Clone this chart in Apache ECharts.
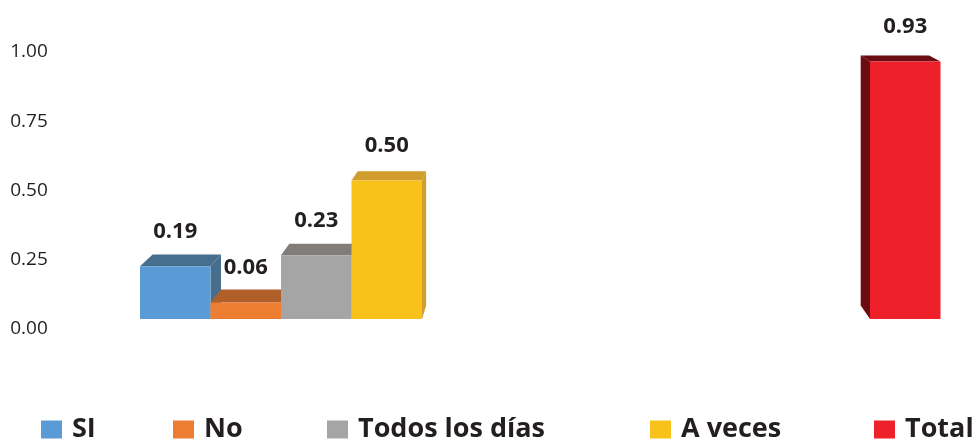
<!DOCTYPE html>
<html>
<head>
<meta charset="utf-8">
<title>Frecuencia</title>
<script src="https://cdn.jsdelivr.net/npm/echarts@6/dist/echarts.min.js"></script>
<style>
  html, body { margin: 0; padding: 0; background: #ffffff; }
  #chart { width: 972px; height: 441px; }
</style>
</head>
<body>
<div id="chart"></div>
<script>
// Two groups on the x axis: the four answers, then the total on its own
const groups = ['Respuestas', 'Total'];
const seriesNames = ['SI', 'No', 'Todos los días', 'A veces', 'Total'];
const seriesValues = [0.19, 0.06, 0.23, 0.50, 0.93];
const seriesGroup = [0, 0, 0, 0, 1];
const yTicks = ['0.00', '0.25', '0.50', '0.75', '1.00'];

// Styling: front colour and shaded (top/side) colour for each series
const frontColors = ['#5b9bd5', '#ed7d31', '#a5a5a5', '#f9c21b', '#ee2029'];
const shadeColors = ['#476f8d', '#b05f28', '#7f7c7a', '#d09c2c', '#6a0c12'];

// Layout of the pseudo-3D bars
const BAR_RATIO = 70.5 / 448;    // bar width as a share of the distance between groups
const VANISH = [560, -131];      // vanishing point of the depth faces (px)
const SHRINK = 0.97;             // back faces scaled toward the vanishing point
const LABEL_RISE = 35;           // value label above the front top edge
const legendSlots = [36, 168, 322, 645, 869];

const chart = echarts.init(document.getElementById('chart'), null, { renderer: 'canvas' });

function toBack(p) {
  return [VANISH[0] + SHRINK * (p[0] - VANISH[0]), VANISH[1] + SHRINK * (p[1] - VANISH[1])];
}

function renderBar(params, api) {
  const idx = params.seriesIndex;
  const g = api.value(0);
  const v = api.value(1);
  const topPt = api.coord([g, v]);
  const base = api.coord([g, 0])[1];
  const step = api.size([1, 0])[0];
  const w = step * BAR_RATIO;
  const x0 = topPt[0] + (idx - seriesNames.length / 2) * w;
  const x1 = x0 + w;
  const yt = topPt[1];

  const fl = [x0, yt], fr = [x1, yt];
  const topFace = [fl, fr, toBack(fr), toBack(fl)];
  const sideX = toBack(fl)[0] > x0 ? x1 : x0;
  const sideFace = [[sideX, yt], [sideX, base], toBack([sideX, base]), toBack([sideX, yt])];

  return {
    type: 'group',
    children: [
      { type: 'polygon', shape: { points: sideFace }, style: { fill: shadeColors[idx] } },
      { type: 'polygon', shape: { points: topFace }, style: { fill: shadeColors[idx] } },
      { type: 'rect', shape: { x: x0, y: yt, width: w, height: base - yt }, style: { fill: frontColors[idx] } },
      {
        type: 'text',
        style: {
          text: v.toFixed(2),
          x: (x0 + x1) / 2,
          y: yt - LABEL_RISE,
          align: 'center',
          verticalAlign: 'middle',
          fontFamily: '"Open Sans", sans-serif',
          fontWeight: 'bold',
          fontSize: 22,
          fill: '#231f20'
        }
      }
    ]
  };
}

const series = seriesNames.map((name, i) => ({
  name: name,
  type: 'custom',
  renderItem: renderBar,
  itemStyle: { color: frontColors[i] },
  encode: { x: 0, y: 1 },
  data: [[seriesGroup[i], seriesValues[i]]],
  animation: false
}));

const legends = seriesNames.map((name, i) => ({
  data: [{ name: name, icon: 'rect' }],
  left: legendSlots[i],
  top: 411,
  itemWidth: 21,
  itemHeight: 18,
  selectedMode: false,
  textStyle: {
    fontFamily: '"Open Sans", sans-serif',
    fontWeight: 'bold',
    fontSize: 27,
    color: '#231f20',
    padding: [0, 0, 0, 5]
  }
}));

chart.setOption({
  backgroundColor: '#ffffff',
  animation: false,
  // group centres sit on the grid edges, so the grid spans centre to centre
  grid: { left: 316.25, width: 448, top: 42, bottom: 122 },
  legend: legends,
  xAxis: {
    type: 'category',
    data: groups,
    boundaryGap: false,
    show: false
  },
  yAxis: {
    type: 'value',
    min: 0,
    max: 1,
    interval: 0.25,
    axisLine: { show: false },
    axisTick: { show: false },
    splitLine: { show: false },
    axisLabel: {
      align: 'left',
      verticalAlign: 'top',
      lineHeight: 20,
      margin: 306,
      fontFamily: '"Open Sans", sans-serif',
      fontSize: 19,
      color: '#231f20',
      formatter: (val) => yTicks[Math.round(val / 0.25)]
    }
  },
  series: series
});
</script>
</body>
</html>
